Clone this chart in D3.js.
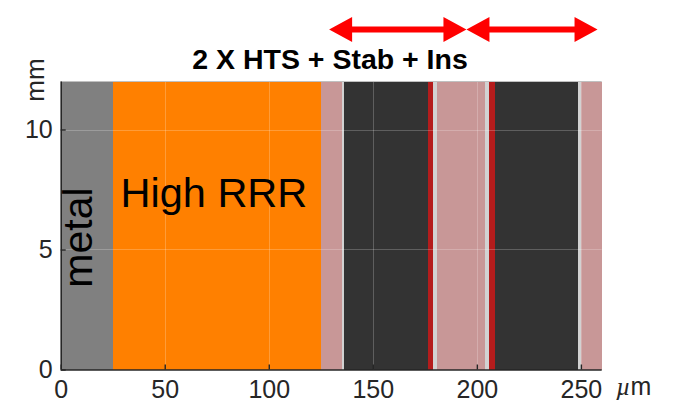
<!DOCTYPE html>
<html>
<head>
<meta charset="utf-8">
<script src="https://cdn.jsdelivr.net/npm/d3@7/dist/d3.min.js"></script>
<style>
  html, body { margin: 0; padding: 0; background: #fff; }
  svg { display: block; }
  text { font-family: "Liberation Sans", Arial, Helvetica, sans-serif; }
</style>
</head>
<body>
<svg id="chart" width="682" height="406"></svg>
<script>
// Layer boundaries across the conductor width (µm), left to right
const layerEdges = [0, 25, 125, 135, 136.3, 176.4, 179, 181, 204, 206, 208.5, 248.5, 250, 260];
// Material of each layer between consecutive edges
const layerKinds = ["metal", "highRRR", "insulation", "silver", "substrate", "hts",
                    "silver", "insulation", "silver", "hts", "substrate", "silver", "insulation"];
// Layer height range (mm)
const layerHeight = [0, 12];

// Axis ticks
const xTicks = [0, 50, 100, 150, 200, 250];
const yTicks = [0, 5, 10];

// Extent of each "HTS + Stab + Ins" unit marked by a double arrow (µm)
const arrowStart = [129, 195];
const arrowEnd = [195, 258];

const kindColor = {
  metal: "#808080",
  highRRR: "#ff8000",
  insulation: "#c89797",
  silver: "#d2d2d2",
  substrate: "#333333",
  hts: "#b41c1c"
};

const svg = d3.select("#chart");
const plotLeft = 60.7, plotRight = 601.7, plotTop = 81.5, plotBottom = 369.5;

const x = d3.scaleLinear().domain([0, 260]).range([plotLeft, plotRight]);
const y = d3.scaleLinear().domain([0, 12]).range([plotBottom, plotTop]);

const layers = layerKinds.map((k, i) => ({ kind: k, x0: layerEdges[i], x1: layerEdges[i + 1] }));

// Layers
svg.append("g").selectAll("rect")
  .data(layers)
  .join("rect")
  .attr("x", d => x(d.x0))
  .attr("width", d => x(d.x1) - x(d.x0))
  .attr("y", y(layerHeight[1]))
  .attr("height", y(layerHeight[0]) - y(layerHeight[1]))
  .attr("fill", d => kindColor[d.kind])
  .attr("shape-rendering", "crispEdges");

// Grid lines on top of the layers
const grid = svg.append("g").attr("stroke", "rgba(255,255,255,0.22)").attr("stroke-width", 1);
grid.selectAll("line.vx")
  .data(xTicks.filter(t => t > 0))
  .join("line")
  .attr("class", "vx")
  .attr("x1", d => Math.round(x(d)) + 0.5).attr("x2", d => Math.round(x(d)) + 0.5)
  .attr("y1", plotTop).attr("y2", plotBottom);
grid.selectAll("line.hy")
  .data(yTicks.filter(t => t > 0))
  .join("line")
  .attr("class", "hy")
  .attr("y1", d => Math.round(y(d)) + 0.5).attr("y2", d => Math.round(y(d)) + 0.5)
  .attr("x1", plotLeft).attr("x2", plotRight);

// Top frame line
svg.append("line")
  .attr("x1", plotLeft).attr("x2", plotRight)
  .attr("y1", plotTop).attr("y2", plotTop)
  .attr("stroke", "#c0c0c0").attr("stroke-width", 1.2);

// Axes (ticks point inward)
const axisColor = "#262626";
const tickFont = "25px";
const xAxis = d3.axisBottom(x).tickValues(xTicks).tickSize(-5).tickPadding(11).tickFormat(d3.format("d"));
const yAxis = d3.axisLeft(y).tickValues(yTicks).tickSize(-5).tickPadding(8).tickFormat(d3.format("d"));

const gx = svg.append("g").attr("transform", `translate(0,${plotBottom})`).call(xAxis);
const gy = svg.append("g").attr("transform", `translate(${plotLeft},0)`).call(yAxis);

[gx, gy].forEach(g => {
  g.select(".domain").attr("stroke", axisColor).attr("stroke-width", 1.6);
  g.selectAll(".tick line").attr("stroke", axisColor).attr("stroke-width", 1.4);
  g.selectAll(".tick text")
    .attr("fill", axisColor)
    .style("font-family", "'Liberation Sans', Arial, sans-serif")
    .style("font-size", tickFont);
});
gx.select(".domain").attr("d", `M${plotLeft},0.5H${plotRight}`);
gy.select(".domain").attr("d", `M0.5,${plotBottom}V${plotTop}`);

// Axis unit labels
const xUnit = svg.append("text")
  .attr("x", 616).attr("y", 395)
  .attr("fill", axisColor)
  .style("font-size", tickFont);
xUnit.append("tspan").style("font-style", "italic").style("font-family", "'Liberation Serif', 'Times New Roman', serif").text("µ");
xUnit.append("tspan").text("m");

svg.append("text")
  .attr("transform", "translate(44,80) rotate(-90)")
  .attr("text-anchor", "middle")
  .attr("fill", axisColor)
  .style("font-size", "26px")
  .text("mm");

// Title
svg.append("text")
  .attr("x", 330).attr("y", 69)
  .attr("text-anchor", "middle")
  .attr("fill", "#000")
  .style("font-size", "28.5px")
  .style("font-weight", "bold")
  .text("2 X HTS + Stab + Ins");

// Layer labels
svg.append("text")
  .attr("transform", `translate(92,${(y(0) + y(12)) / 2 + 12}) rotate(-90)`)
  .attr("text-anchor", "middle")
  .attr("fill", "#000")
  .style("font-size", "41px")
  .text("metal");

svg.append("text")
  .attr("x", 120.5).attr("y", 207)
  .attr("fill", "#000")
  .style("font-size", "41.5px")
  .text("High RRR");

// Double-headed arrows marking each unit
const arrowY = 29.5, headLen = 23, headHalf = 12.5, shaftHalf = 3;
function doubleArrow(x0, x1) {
  const p = [
    [x0, arrowY],
    [x0 + headLen, arrowY - headHalf],
    [x0 + headLen, arrowY - shaftHalf],
    [x1 - headLen, arrowY - shaftHalf],
    [x1 - headLen, arrowY - headHalf],
    [x1, arrowY],
    [x1 - headLen, arrowY + headHalf],
    [x1 - headLen, arrowY + shaftHalf],
    [x0 + headLen, arrowY + shaftHalf],
    [x0 + headLen, arrowY + headHalf]
  ];
  return "M" + p.map(q => q.join(",")).join("L") + "Z";
}
svg.append("g").selectAll("path")
  .data(arrowStart.map((s, i) => ({ s, e: arrowEnd[i] })))
  .join("path")
  .attr("d", d => doubleArrow(x(d.s), x(d.e)))
  .attr("fill", "#ff0000");
</script>
</body>
</html>
